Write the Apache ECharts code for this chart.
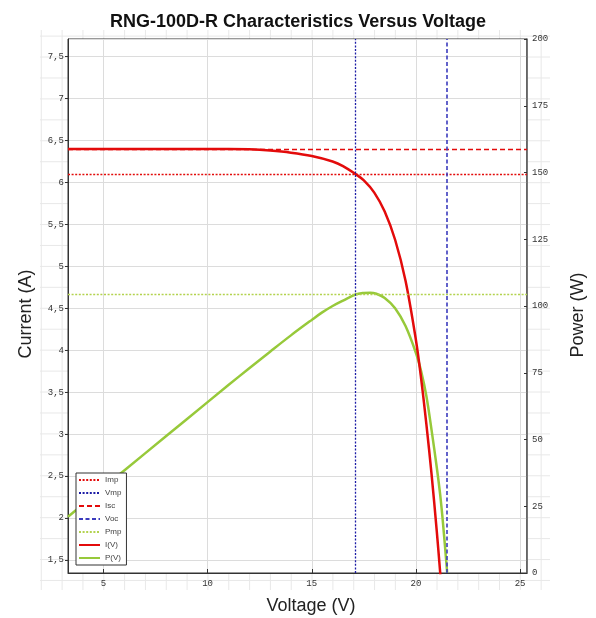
<!DOCTYPE html>
<html>
<head>
<meta charset="utf-8">
<script src="https://cdn.jsdelivr.net/npm/echarts@6/dist/echarts.min.js"></script>
<style>
  html, body { margin: 0; padding: 0; background: #fff; }
  #wrap { position: relative; width: 596px; height: 618px; }
  #bg {
    position: absolute; left: 40px; top: 30px; width: 510px; height: 560px;
    background-image: linear-gradient(to right, #e8e8e8 1px, transparent 1px),
                      linear-gradient(to bottom, #e8e8e8 1px, transparent 1px);
    background-size: 20.83px 20.95px;
    background-position: 0.8px 5.6px;
  }
  #chart { position: absolute; left: 0; top: 0; width: 596px; height: 618px; }
</style>
</head>
<body>
<div id="wrap"><div id="bg"></div><div id="chart"></div></div>
<script>
// ---- Data ----
const titleText = 'RNG-100D-R Characteristics Versus Voltage';
const xName = 'Voltage (V)';
const yLeftName = 'Current (A)';
const yRightName = 'Power (W)';

// Axis ranges
const xRange = [3.3, 25.33];
const currentRange = [1.345, 7.71];
const powerRange = [0, 200];
const powerTicks = 25;

// Key points
const IMP = 6.1;   // A
const VMP = 17.1;  // V
const ISC = 6.4;   // A
const VOC = 21.5;  // V
const PMP = 104.3; // W

// I(V) curve
const ivVoltage = [3.3, 11.0, 12.0, 13.0, 14.0, 15.0, 16.0, 16.5, 17.1, 17.5, 18.0, 18.5, 19.0, 19.5, 20.0, 20.25, 20.5, 20.75, 21.0, 21.16, 21.3, 21.55];
const ivCurrent = [6.4, 6.4, 6.395, 6.38, 6.355, 6.315, 6.25, 6.195, 6.1, 6.024, 5.879, 5.654, 5.317, 4.829, 4.12, 3.66, 3.12, 2.52, 1.84, 1.36, 0.92, 0];

// P(V) curve
const pvVoltage = [3.3, 5, 7, 9, 11, 12, 13, 14, 15, 15.5, 16, 16.5, 17.1, 17.5, 17.8, 18.1, 18.5, 19.0, 19.5, 20.0, 20.25, 20.5, 20.75, 21.0, 21.16, 21.3, 21.5];
const pvPower   = [21.1, 32.0, 44.8, 57.6, 70.4, 76.7, 82.9, 89.0, 94.8, 97.6, 100.0, 102.0, 104.3, 104.9, 105.0, 104.6, 103.0, 99.2, 92.5, 82.4, 75.5, 66.3, 53.5, 39.5, 29.5, 18.5, 0];

const legendNames = ['Imp', 'Vmp', 'Isc', 'Voc', 'Pmp', 'I(V)', 'P(V)'];

// ---- Styles ----
const RED = '#e30b0b';
const NAVY = '#1c1ca6';
const BLUE = '#3b3bbd';
const GREEN = '#97c93a';
const LGREEN = '#b3d34f';
const DOT = [2, 1.6];
const DASH = [5, 3];
const mono = 'Liberation Mono';
const sans = 'Liberation Sans, Arial, sans-serif';

const zip = (a, b) => a.map((v, i) => [v, b[i]]);
const comma = v => String(v).replace('.', ',');

function refLine(name, color, type, width, target, yIdx) {
  return {
    name: name, type: 'line', data: [], yAxisIndex: yIdx || 0, z: 2,
    symbol: 'none', showSymbol: false,
    itemStyle: { color: color },
    lineStyle: { color: color, type: type, width: width },
    markLine: {
      silent: true, symbol: ['none', 'none'], animation: false,
      label: { show: false },
      emphasis: { disabled: true },
      lineStyle: { color: color, type: type, width: width },
      data: [target]
    }
  };
}

const chart = echarts.init(document.getElementById('chart'), null, { renderer: 'canvas' });
chart.setOption({
  animation: false,
  backgroundColor: 'transparent',
  title: {
    text: titleText, left: 'center', top: 8,
    textStyle: { fontFamily: sans, fontSize: 18, fontWeight: 'bold', color: '#111' }
  },
  grid: {
    left: 68, right: 69, top: 39, bottom: 45,
    show: true, backgroundColor: '#fff', borderColor: '#333', borderWidth: 1
  },
  legend: {
    data: legendNames, orient: 'vertical', left: 76, top: 473,
    backgroundColor: '#fff', borderColor: '#333', borderWidth: 1, borderRadius: 0,
    padding: [3, 5, 3, 2], itemGap: 5, itemWidth: 21, itemHeight: 8,
    itemStyle: { opacity: 0 },
    textStyle: { fontFamily: sans, fontSize: 8, color: '#444' },
    selectedMode: false
  },
  xAxis: {
    type: 'value', min: xRange[0], max: xRange[1],
    axisLine: { show: true, onZero: false, lineStyle: { color: '#333' } },
    axisTick: { show: true, inside: true, length: 4, lineStyle: { color: '#333' } },
    axisLabel: { showMinLabel: false, showMaxLabel: false, fontFamily: mono, fontSize: 9, color: '#333', margin: 6 },
    splitLine: { show: true, lineStyle: { color: '#dcdcdc' } }
  },
  yAxis: [
    {
      type: 'value', min: currentRange[0], max: currentRange[1], splitNumber: 12,
      axisLine: { show: true, onZero: false, lineStyle: { color: '#333' } },
      axisTick: { show: true, length: 3, lineStyle: { color: '#333' } },
      axisLabel: { showMinLabel: false, showMaxLabel: false, formatter: comma, fontFamily: mono, fontSize: 9, color: '#333', margin: 4 },
      splitLine: { show: true, lineStyle: { color: '#dcdcdc' } }
    },
    {
      type: 'value', min: powerRange[0], max: powerRange[1], interval: powerTicks, position: 'right',
      axisLine: { show: true, onZero: false, lineStyle: { color: '#555', width: 1.5 } },
      axisTick: { show: true, length: 3, inside: true, lineStyle: { color: '#333' } },
      axisLabel: { fontFamily: mono, fontSize: 9, color: '#333', margin: 5 },
      splitLine: { show: false }
    }
  ],
  graphic: [
    { type: 'text', x: 26, y: 314, rotation: Math.PI / 2, silent: true,
      style: { text: yLeftName, font: '18px ' + sans, fill: '#222', align: 'center', verticalAlign: 'middle' } },
    { type: 'text', x: 578, y: 315, rotation: Math.PI / 2, silent: true,
      style: { text: yRightName, font: '18px ' + sans, fill: '#222', align: 'center', verticalAlign: 'middle' } },
    { type: 'text', x: 311, y: 606, silent: true,
      style: { text: xName, font: '18px ' + sans, fill: '#222', align: 'center', verticalAlign: 'middle' } }
  ],
  series: [
    refLine('Imp', RED, DOT, 1.3, { yAxis: IMP }),
    refLine('Vmp', NAVY, DOT, 1.3, { xAxis: VMP }),
    refLine('Isc', RED, DASH, 1.3, { yAxis: ISC }),
    refLine('Voc', BLUE, [4, 2.5], 1.6, { xAxis: VOC }),
    refLine('Pmp', LGREEN, DOT, 1.3, { yAxis: PMP }, 1),
    {
      name: 'I(V)', type: 'line', yAxisIndex: 0, z: 4, clip: true,
      data: zip(ivVoltage, ivCurrent), symbol: 'none', showSymbol: false, smooth: 0.35,
      itemStyle: { color: RED }, lineStyle: { color: RED, width: 2.5 }
    },
    {
      name: 'P(V)', type: 'line', yAxisIndex: 1, z: 3, clip: true,
      data: zip(pvVoltage, pvPower), symbol: 'none', showSymbol: false, smooth: 0.35,
      itemStyle: { color: GREEN }, lineStyle: { color: GREEN, width: 2.5 }
    }
  ]
});
</script>
</body>
</html>
